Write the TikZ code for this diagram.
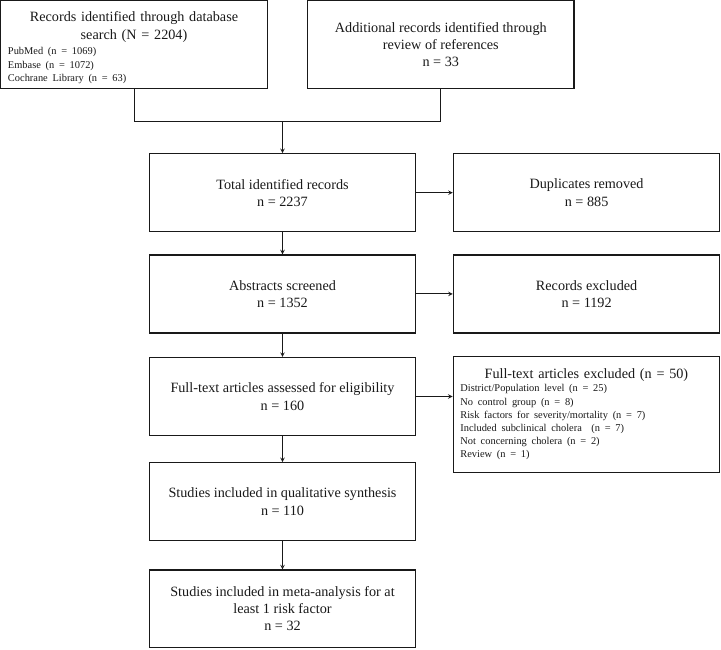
\documentclass[tikz,border=0pt]{standalone}
\usepackage{fontspec}
\setmainfont{Liberation Serif}
\usetikzlibrary{arrows}
\newcommand{\bigtxt}{\fontsize{14.2}{17.2}\selectfont}
\newcommand{\smalltxt}{\fontsize{10.4}{13.2}\selectfont}

\begin{document}
\begin{tikzpicture}[>=stealth, x=1pt, y=-1pt,
    box/.style={draw=black!90, line width=1.2pt, minimum width=266.5pt,
        minimum height=78pt, inner sep=0pt, align=center, text=black!90, font=\bigtxt},
    listbox/.style={box, text width=252pt, align=left},
    flow/.style={->, draw=black!90, line width=1pt}]

\useasboundingbox (0,0) rectangle (721,649);

%identification
    \node[listbox, minimum height=88pt] (rec) at (134,44.7)
        {{\centering\rule{0pt}{16pt}Records identified through database\\search (N = 2204)\par}\vspace{2.5pt}
         {\raggedright\smalltxt PubMed (n = 1069)\\Embase (n = 1072)\\Cochrane Library (n = 63)\par}};
    \node[box, minimum height=88pt] (add) at (440.8,44.7)
        {Additional records identified through\\review of references\\n = 33};
    \coordinate (join) at (282.5,121.3);

%screening
    \node[box] (total) at (282.5,192.7) {Total identified records\\n = 2237};
    \node[box] (dup)   at (586.6,192.7) {Duplicates removed\\n = 885};
    \node[box] (abs)   at (282.5,293.9) {Abstracts screened\\n = 1352};
    \node[box] (excl)  at (586.6,293.9) {Records excluded\\n = 1192};

%eligibility
    \node[box] (full) at (282.5,396.5) {Full-text articles assessed for eligibility\\n = 160};
    \node[listbox, minimum height=115.6pt] (fexcl) at (586.4,414.5)
        {{\centering Full-text articles excluded (n = 50)\par}
         {\raggedright\smalltxt District/Population level (n = 25)\\No control group (n = 8)\\
         Risk factors for severity/mortality (n = 7)\\Included subclinical cholera~ (n = 7)\\
         Not concerning cholera (n = 2)\\Review (n = 1)\par}};

%included
    \node[box] (qual) at (282.5,501.7) {Studies included in qualitative synthesis\\n = 110};
    \node[box, minimum height=77.7pt] (meta) at (282.5,608.8)
        {Studies included in meta-analysis for at\\least 1 risk factor\\n = 32};

%the arrows
    \draw[flow, -] (rec.south) |- (join);
    \draw[flow, -] (add.south) |- (join);
    \draw[flow] (join) to (total.north);
    \draw[flow] (total) to (abs);
    \draw[flow] (abs) to (full);
    \draw[flow] (full) to (qual);
    \draw[flow] (qual) to (meta);
    \draw[flow] (total.east) to (dup.west);
    \draw[flow] (abs.east) to (excl.west);
    \draw[flow] (full.east) to (full.east -| fexcl.west);
\end{tikzpicture}
\end{document}
